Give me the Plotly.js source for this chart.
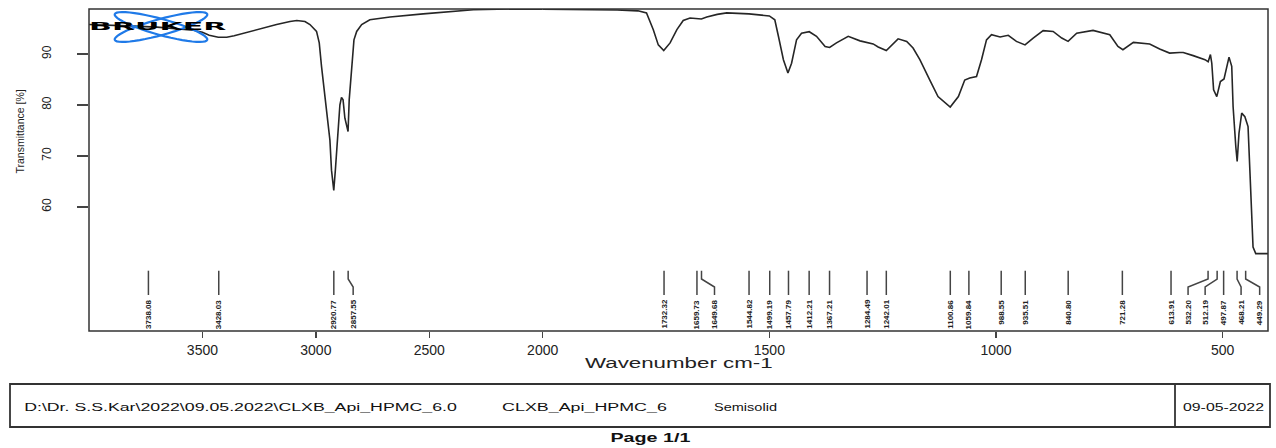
<!DOCTYPE html>
<html><head><meta charset="utf-8">
<script src="https://cdn.plot.ly/plotly-3.0.1.min.js"></script>
<style>html,body{margin:0;padding:0;background:#fff;} #chart{width:1276px;height:448px;}</style>
</head><body><div id="chart"></div>
<script>
// ---- data ----
const wavenumber = [4000,3900,3800,3700,3600,3540,3500,3470,3430,3393,3360,3320,3246,3173,3114,3084,3048,3026,2997,2985,2975,2960,2950,2938,2931,2921,2914,2909,2902,2894,2887,2880,2872,2858,2853,2842,2832,2820,2798,2762,2673,2527,2380,2306,2144,2000,
1900,1836,1790,1771,1756,1745,1733,1719,1704,1690,1675,1660,1650,1638,1615,1594,1570,1545,1500,1488,1480,1469,1459,1451,1440,1429,1412,1396,1377,1367,1352,1326,1300,1284,1271,1260,1242,1216,1197,1183,1168,1146,1128,1101,1083,1069,1058,1043,1032,1021,1010,991,973,955,936,918,896,874,855,841,822,786,749,731,720,697,661,639,617,595,587,565,539,532,527,524,520,513,505,497,490,486,480,477,471,468,464,458,451,444,440,436,433,427,400];
const transmittance = [95.8,95.7,95.5,95.3,95.0,94.7,94.3,93.7,93.3,93.3,93.6,94.1,94.9,95.8,96.4,96.6,96.4,95.8,94.45,92.2,87.6,81.65,78.4,73.1,67.2,63.2,67.2,70.5,76.4,80.0,81.5,81.0,77.4,74.8,81.0,87.6,92.8,94.45,95.8,96.75,97.3,97.9,98.5,98.7,98.85,98.8,
98.75,98.65,98.5,98.1,94.8,91.8,90.7,92.2,94.8,96.6,97.1,97.0,96.9,97.3,97.8,98.1,98.05,97.9,97.5,96.75,93.5,88.9,86.3,88.2,92.8,94.1,94.4,93.5,91.5,91.3,92.2,93.5,92.6,92.2,92.0,91.4,90.7,93.0,92.5,91.2,88.9,84.9,81.65,79.6,81.65,84.9,85.3,85.6,88.9,92.8,93.8,93.35,93.7,92.5,91.8,93.15,94.6,94.45,93.15,92.5,94.1,94.65,93.8,91.5,90.85,92.3,91.97,91.0,90.2,90.3,90.3,89.7,88.9,88.5,89.9,88.2,83.0,81.65,84.6,85.1,87.9,89.4,87.6,79.7,71.8,68.9,74.45,78.4,77.7,75.75,67.2,56.1,52.1,50.8,50.8];
const peakLabels = ["3738.08","3428.03","2920.77","2857.55","1732.32","1659.73","1649.68","1544.82","1499.19","1457.79","1412.21","1367.21","1284.49","1242.01","1100.86","1059.84","988.55","935.51","840.80","721.28","613.91","532.20","512.19","497.87","468.21","449.29"];
const xTicksHigh = [3500,3000,2500];
const xTicksLow = [2000,1500,1000,500];
const yTicks = [60,70,80,90];
const yTitle = "Transmittance [%]";
const xTitle = "Wavenumber cm-1";
const footerFile = "D:\\Dr. S.S.Kar\\2022\\09.05.2022\\CLXB_Api_HPMC_6.0";
const footerSample = "CLXB_Api_HPMC_6";
const footerForm = "Semisolid";
const footerDate = "09-05-2022";
const pageText = "Page 1/1";
const logoText = "BRUKER";

// ---- layout geometry (style) ----
const M = {l: 89, r: 8, t: 9, b: 117};
const PW = 1276 - M.l - M.r, PH = 448 - M.t - M.b;
const px = v => (v - M.l) / PW;      // page px -> paper x
const py = v => (448 - M.b - v) / PH; // page py -> paper y
const split = px(542.7);
const labelShift = {"2857.55": 5, "1649.68": 13, "532.20": -20, "512.19": -12, "468.21": 4, "449.29": 14};

const hi = [], lo = [];
wavenumber.forEach((w, i) => {
  if (w >= 2000) hi.push([w, transmittance[i]]);
  if (w <= 2000) lo.push([w, transmittance[i]]);
});
const lineStyle = {color: '#262626', width: 1.6};
const traces = [
  {x: hi.map(p => p[0]), y: hi.map(p => p[1]), xaxis: 'x', yaxis: 'y', mode: 'lines', line: lineStyle, hoverinfo: 'skip'},
  {x: lo.map(p => p[0]), y: lo.map(p => p[1]), xaxis: 'x2', yaxis: 'y', mode: 'lines', line: lineStyle, hoverinfo: 'skip'}
];

const tickFont = {family: 'Liberation Sans, Arial, sans-serif', size: 14, color: '#222'};
const axCommon = {showgrid: false, zeroline: false, showline: false, ticks: 'outside', ticklen: 6, tickwidth: 1.5, tickcolor: '#444', tickfont: tickFont, anchor: 'y', fixedrange: true};

const shapes = [
  {type: 'rect', xref: 'paper', yref: 'paper', x0: 0, x1: 1, y0: 0, y1: 1, line: {color: '#333', width: 1.5}},
  {type: 'rect', xref: 'paper', yref: 'paper', x0: px(10), x1: px(1270), y0: py(427), y1: py(384), line: {color: '#333', width: 1.8}},
  {type: 'line', xref: 'paper', yref: 'paper', x0: px(1175), x1: px(1175), y0: py(427), y1: py(384), line: {color: '#333', width: 1.8}}
];
const annotations = [];
const yTop = py(270.7), yB1 = py(279), yB2 = py(287), yBot = py(295), yText = py(299);
peakLabels.forEach(lbl => {
  const w = parseFloat(lbl);
  const xr = w > 2000 ? 'x' : 'x2';
  const s = labelShift[lbl] || 0;
  shapes.push({type: 'path', xref: xr, yref: 'paper', xsizemode: 'pixel', xanchor: w,
    path: `M0,${yTop} L0,${yB1} L${s},${yB2} L${s},${yBot}`, line: {color: '#444', width: 1.5}});
  annotations.push({text: lbl, x: w, xref: xr, xshift: s, y: yText, yref: 'paper', yanchor: 'top', xanchor: 'center',
    textangle: -90, showarrow: false, borderpad: 0, font: {family: 'Liberation Sans, Arial, sans-serif', size: 8, weight: 'bold', color: '#222'}});
});

// logo ellipses
function ellipse(a, b, th) {
  const pts = [];
  for (let k = 0; k <= 48; k++) {
    const t = 2 * Math.PI * k / 48;
    const x = a * Math.cos(t), y = b * Math.sin(t);
    pts.push(`${(x * Math.cos(th) - y * Math.sin(th)).toFixed(2)},${(x * Math.sin(th) + y * Math.cos(th)).toFixed(2)}`);
  }
  return 'M' + pts.join(' L') + ' Z';
}
[0.27, -0.27].forEach(th => shapes.push({type: 'path', xref: 'paper', yref: 'paper', xsizemode: 'pixel', ysizemode: 'pixel',
  xanchor: px(161), yanchor: py(27), path: ellipse(48, 8, th), line: {color: '#1f7ae8', width: 2.2}}));

const footFont = {family: 'Liberation Sans, Arial, sans-serif', size: 11, color: '#111'};
annotations.push(
  {text: logoText, x: px(158.5), y: py(26.5), xref: 'paper', yref: 'paper', showarrow: false, xanchor: 'center', yanchor: 'middle',
   font: {family: 'DejaVu Sans, sans-serif', size: 11, weight: 900, color: '#000'}},
  {text: yTitle, textangle: -90, x: px(19), y: py(131.5), xref: 'paper', yref: 'paper', showarrow: false, xanchor: 'center', yanchor: 'middle',
   font: {family: 'Liberation Sans, Arial, sans-serif', size: 10.5, color: '#222'}},
  {text: xTitle, x: 0.5, y: py(363), xref: 'paper', yref: 'paper', showarrow: false, xanchor: 'center', yanchor: 'middle',
   font: {family: 'Liberation Sans, Arial, sans-serif', size: 14, color: '#222'}},
  {text: footerFile, x: px(22), y: py(407), xref: 'paper', yref: 'paper', showarrow: false, xanchor: 'left', yanchor: 'middle', font: footFont},
  {text: footerSample, x: px(500), y: py(407), xref: 'paper', yref: 'paper', showarrow: false, xanchor: 'left', yanchor: 'middle', font: footFont},
  {text: footerForm, x: px(712), y: py(407), xref: 'paper', yref: 'paper', showarrow: false, xanchor: 'left', yanchor: 'middle', font: footFont},
  {text: footerDate, x: px(1181), y: py(407), xref: 'paper', yref: 'paper', showarrow: false, xanchor: 'left', yanchor: 'middle', font: footFont},
  {text: pageText, x: px(650), y: py(437), xref: 'paper', yref: 'paper', showarrow: false, xanchor: 'center', yanchor: 'middle',
   font: {family: 'Liberation Sans, Arial, sans-serif', size: 13, weight: 'bold', color: '#111'}}
);

// target on-page widths of the (horizontally stretched) reference texts: [width, anchor]
const stretch = {};
stretch[logoText] = [139, 'c'];
stretch[xTitle] = [188, 'c'];
stretch[footerFile] = [433, 'l'];
stretch[footerSample] = [165, 'l'];
stretch[footerForm] = [63, 'l'];
stretch[footerDate] = [81, 'l'];
stretch[pageText] = [80, 'c'];

const layout = {
  width: 1276, height: 448, margin: M, paper_bgcolor: '#fff', plot_bgcolor: '#fff', showlegend: false,
  xaxis: Object.assign({}, axCommon, {domain: [0, split], range: [4000, 2000], tickvals: xTicksHigh}),
  xaxis2: Object.assign({}, axCommon, {domain: [split, 1], range: [2000, 400], tickvals: xTicksLow}),
  yaxis: {domain: [0, 1], range: [35.59, 98.86], tickvals: yTicks, ticks: 'outside', ticklen: 11, tickwidth: 1.5, tickcolor: '#444',
    tickangle: -90, ticklabelstandoff: 21, tickfont: {family: 'Liberation Sans, Arial, sans-serif', size: 12, color: '#222'},
    showgrid: false, zeroline: false, showline: false, fixedrange: true},
  shapes: shapes, annotations: annotations
};
Plotly.newPlot('chart', traces, layout, {displayModeBar: false, staticPlot: true}).then(gd => {
  gd.querySelectorAll('.annotation-text').forEach(t => {
    const st = stretch[t.textContent];
    if (!st) return;
    const bb = t.getBBox();
    const cx = st[1] === 'l' ? bb.x : bb.x + bb.width / 2;
    const s = st[0] / bb.width;
    t.setAttribute('transform', `translate(${cx},0) scale(${s},1) translate(${-cx},0)`);
  });
});
</script></body></html>
